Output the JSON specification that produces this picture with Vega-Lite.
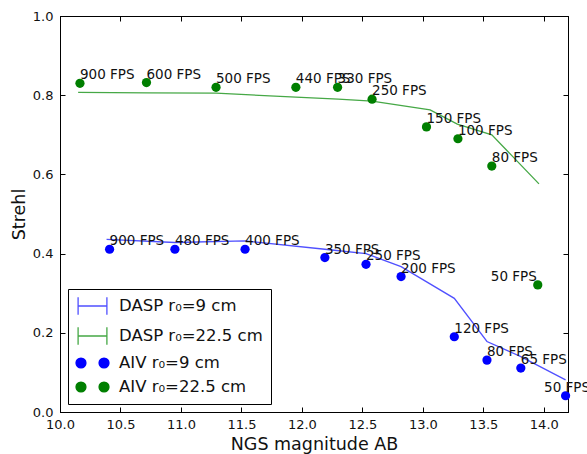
{
  "$schema": "https://vega.github.io/schema/vega-lite/v6.json",
  "width": 508,
  "height": 396,
  "autosize": {"type": "none"},
  "padding": {"left": 60, "top": 16, "right": 19, "bottom": 42},
  "background": "white",
  "config": {
    "font": "DejaVu Sans",
    "view": {"stroke": "black", "strokeWidth": 1},
    "axis": {
      "grid": false,
      "domainColor": "black",
      "domainWidth": 1,
      "tickColor": "black",
      "tickSize": -5,
      "tickWidth": 1,
      "labelFont": "DejaVu Sans",
      "labelFontSize": 13,
      "labelColor": "#111",
      "labelFlush": false,
      "labelOverlap": false,
      "titleFont": "DejaVu Sans",
      "titleFontSize": 17.5,
      "titleFontWeight": "normal",
      "titleColor": "#111"
    }
  },
  "datasets": {
    "lines": [
      {"series": "DASP r₀=9 cm", "mag": 10.385, "strehl": 0.436},
      {"series": "DASP r₀=9 cm", "mag": 10.95, "strehl": 0.428},
      {"series": "DASP r₀=9 cm", "mag": 11.53, "strehl": 0.432},
      {"series": "DASP r₀=9 cm", "mag": 12.19, "strehl": 0.411},
      {"series": "DASP r₀=9 cm", "mag": 12.53, "strehl": 0.4},
      {"series": "DASP r₀=9 cm", "mag": 12.82, "strehl": 0.367},
      {"series": "DASP r₀=9 cm", "mag": 13.26, "strehl": 0.287},
      {"series": "DASP r₀=9 cm", "mag": 13.53, "strehl": 0.178},
      {"series": "DASP r₀=9 cm", "mag": 13.81, "strehl": 0.14},
      {"series": "DASP r₀=9 cm", "mag": 14.18, "strehl": 0.081},
      {"series": "DASP r₀=22.5 cm", "mag": 10.15, "strehl": 0.807},
      {"series": "DASP r₀=22.5 cm", "mag": 10.72, "strehl": 0.806},
      {"series": "DASP r₀=22.5 cm", "mag": 11.29, "strehl": 0.805},
      {"series": "DASP r₀=22.5 cm", "mag": 11.95, "strehl": 0.795},
      {"series": "DASP r₀=22.5 cm", "mag": 12.3, "strehl": 0.79},
      {"series": "DASP r₀=22.5 cm", "mag": 12.58, "strehl": 0.785},
      {"series": "DASP r₀=22.5 cm", "mag": 13.06, "strehl": 0.763},
      {"series": "DASP r₀=22.5 cm", "mag": 13.285, "strehl": 0.727},
      {"series": "DASP r₀=22.5 cm", "mag": 13.57, "strehl": 0.7},
      {"series": "DASP r₀=22.5 cm", "mag": 13.96, "strehl": 0.576}
    ],
    "points": [
      {"series": "AIV r₀=9 cm", "mag": 10.41, "strehl": 0.411, "fps": 900, "label": "900 FPS"},
      {"series": "AIV r₀=9 cm", "mag": 10.95, "strehl": 0.411, "fps": 480, "label": "480 FPS"},
      {"series": "AIV r₀=9 cm", "mag": 11.53, "strehl": 0.411, "fps": 400, "label": "400 FPS"},
      {"series": "AIV r₀=9 cm", "mag": 12.19, "strehl": 0.39, "fps": 350, "label": "350 FPS"},
      {"series": "AIV r₀=9 cm", "mag": 12.53, "strehl": 0.373, "fps": 250, "label": "250 FPS"},
      {"series": "AIV r₀=9 cm", "mag": 12.82, "strehl": 0.342, "fps": 200, "label": "200 FPS"},
      {"series": "AIV r₀=9 cm", "mag": 13.26, "strehl": 0.19, "fps": 120, "label": "120 FPS"},
      {"series": "AIV r₀=9 cm", "mag": 13.53, "strehl": 0.131, "fps": 80, "label": "80 FPS"},
      {"series": "AIV r₀=9 cm", "mag": 13.81, "strehl": 0.111, "fps": 65, "label": "65 FPS"},
      {"series": "AIV r₀=9 cm", "mag": 14.18, "strehl": 0.041, "fps": 50, "label": "50 FPS"},
      {"series": "AIV r₀=22.5 cm", "mag": 10.165, "strehl": 0.83, "fps": 900, "label": "900 FPS"},
      {"series": "AIV r₀=22.5 cm", "mag": 10.715, "strehl": 0.832, "fps": 600, "label": "600 FPS"},
      {"series": "AIV r₀=22.5 cm", "mag": 11.29, "strehl": 0.82, "fps": 500, "label": "500 FPS"},
      {"series": "AIV r₀=22.5 cm", "mag": 11.95, "strehl": 0.82, "fps": 440, "label": "440 FPS"},
      {"series": "AIV r₀=22.5 cm", "mag": 12.295, "strehl": 0.82, "fps": 330, "label": "330 FPS"},
      {"series": "AIV r₀=22.5 cm", "mag": 12.58, "strehl": 0.79, "fps": 250, "label": "250 FPS"},
      {"series": "AIV r₀=22.5 cm", "mag": 13.03, "strehl": 0.72, "fps": 150, "label": "150 FPS"},
      {"series": "AIV r₀=22.5 cm", "mag": 13.29, "strehl": 0.69, "fps": 100, "label": "100 FPS"},
      {"series": "AIV r₀=22.5 cm", "mag": 13.57, "strehl": 0.621, "fps": 80, "label": "80 FPS"},
      {"series": "AIV r₀=22.5 cm", "mag": 13.95, "strehl": 0.321, "fps": 50, "label": "50 FPS"}
    ]
  },
  "layer": [
    {
      "data": {"name": "lines"},
      "mark": {"type": "line", "strokeWidth": 1.3},
      "encoding": {
        "x": {
          "field": "mag", "type": "quantitative",
          "scale": {"domain": [10, 14.2], "nice": false, "zero": false},
          "axis": {"orient": "bottom", "values": [10, 10.5, 11, 11.5, 12, 12.5, 13, 13.5, 14], "format": ".1f", "title": "NGS magnitude AB", "labelPadding": 11, "titlePadding": 4}
        },
        "y": {
          "field": "strehl", "type": "quantitative",
          "scale": {"domain": [0, 1], "nice": false, "zero": false},
          "axis": {"orient": "left", "values": [0, 0.2, 0.4, 0.6, 0.8, 1], "format": ".1f", "title": "Strehl", "labelPadding": 12, "titlePadding": 4}
        },
        "color": {
          "field": "series", "type": "nominal",
          "scale": {
            "domain": ["DASP r₀=9 cm", "DASP r₀=22.5 cm", "AIV r₀=9 cm", "AIV r₀=22.5 cm"],
            "range": ["#5050ff", "#46a846", "#0000ff", "#007f00"]
          },
          "legend": {
            "orient": "bottom-left", "offset": 8, "title": null, "padding": 8,
            "strokeColor": "black", "fillColor": "white", "cornerRadius": 0,
            "labelFont": "DejaVu Sans", "labelFontSize": 16.5, "labelColor": "#111",
            "rowPadding": 6, "symbolOffset": 7.5, "labelOffset": 17.5, "symbolSize": 256,
            "encode": {
              "symbols": {
                "update": {
                  "shape": {"signal": "indexof(datum.value,'DASP')===0 ? 'M-1.8,-1.1V1.1M-1.8,0H1.8M1.8,-1.1V1.1' : 'M-2.06,0C-2.06,-0.342,-1.782,-0.62,-1.44,-0.62C-1.098,-0.62,-0.82,-0.342,-0.82,0C-0.82,0.342,-1.098,0.62,-1.44,0.62C-1.782,0.62,-2.06,0.342,-2.06,0ZM0.82,0C0.82,-0.342,1.098,-0.62,1.44,-0.62C1.782,-0.62,2.06,-0.342,2.06,0C2.06,0.342,1.782,0.62,1.44,0.62C1.098,0.62,0.82,0.342,0.82,0Z'"},
                  "fill": {"signal": "indexof(datum.value,'AIV')===0 ? scale('color', datum.value) : 'transparent'"},
                  "stroke": {"signal": "indexof(datum.value,'DASP')===0 ? scale('color', datum.value) : 'transparent'"},
                  "strokeWidth": {"value": 1.3},
                  "size": {"value": 256},
                  "opacity": {"value": 1}
                }
              }
            }
          }
        }
      }
    },
    {
      "data": {"name": "points"},
      "mark": {"type": "point", "filled": true, "size": 85, "opacity": 1},
      "encoding": {
        "x": {
          "field": "mag", "type": "quantitative",
          "axis": {"orient": "top", "values": [10, 10.5, 11, 11.5, 12, 12.5, 13, 13.5, 14], "labels": false, "title": null}
        },
        "y": {
          "field": "strehl", "type": "quantitative",
          "axis": {"orient": "right", "values": [0, 0.2, 0.4, 0.6, 0.8, 1], "labels": false, "title": null}
        },
        "color": {"field": "series", "type": "nominal"}
      }
    },
    {
      "data": {"name": "points"},
      "transform": [{"filter": "datum.fps !== 50"}],
      "mark": {"type": "text", "align": "left", "baseline": "alphabetic", "dx": 0, "dy": -4, "font": "DejaVu Sans", "fontSize": 13.5, "color": "#111"},
      "encoding": {
        "x": {"field": "mag", "type": "quantitative", "axis": null},
        "y": {"field": "strehl", "type": "quantitative", "axis": null},
        "text": {"field": "label"}
      }
    },
    {
      "data": {"name": "points"},
      "transform": [{"filter": "datum.fps === 50 && datum.series === 'AIV r₀=22.5 cm'"}],
      "mark": {"type": "text", "align": "right", "baseline": "alphabetic", "dx": -1, "dy": -4, "font": "DejaVu Sans", "fontSize": 13.5, "color": "#111"},
      "encoding": {
        "x": {"field": "mag", "type": "quantitative", "axis": null},
        "y": {"field": "strehl", "type": "quantitative", "axis": null},
        "text": {"field": "label"}
      }
    },
    {
      "data": {"name": "points"},
      "transform": [{"filter": "datum.fps === 50 && datum.series === 'AIV r₀=9 cm'"}],
      "mark": {"type": "text", "align": "left", "baseline": "alphabetic", "dx": -21.5, "dy": -4, "font": "DejaVu Sans", "fontSize": 13.5, "color": "#111"},
      "encoding": {
        "x": {"field": "mag", "type": "quantitative", "axis": null},
        "y": {"field": "strehl", "type": "quantitative", "axis": null},
        "text": {"field": "label"}
      }
    }
  ],
  "resolve": {"axis": {"x": "independent", "y": "independent"}}
}
